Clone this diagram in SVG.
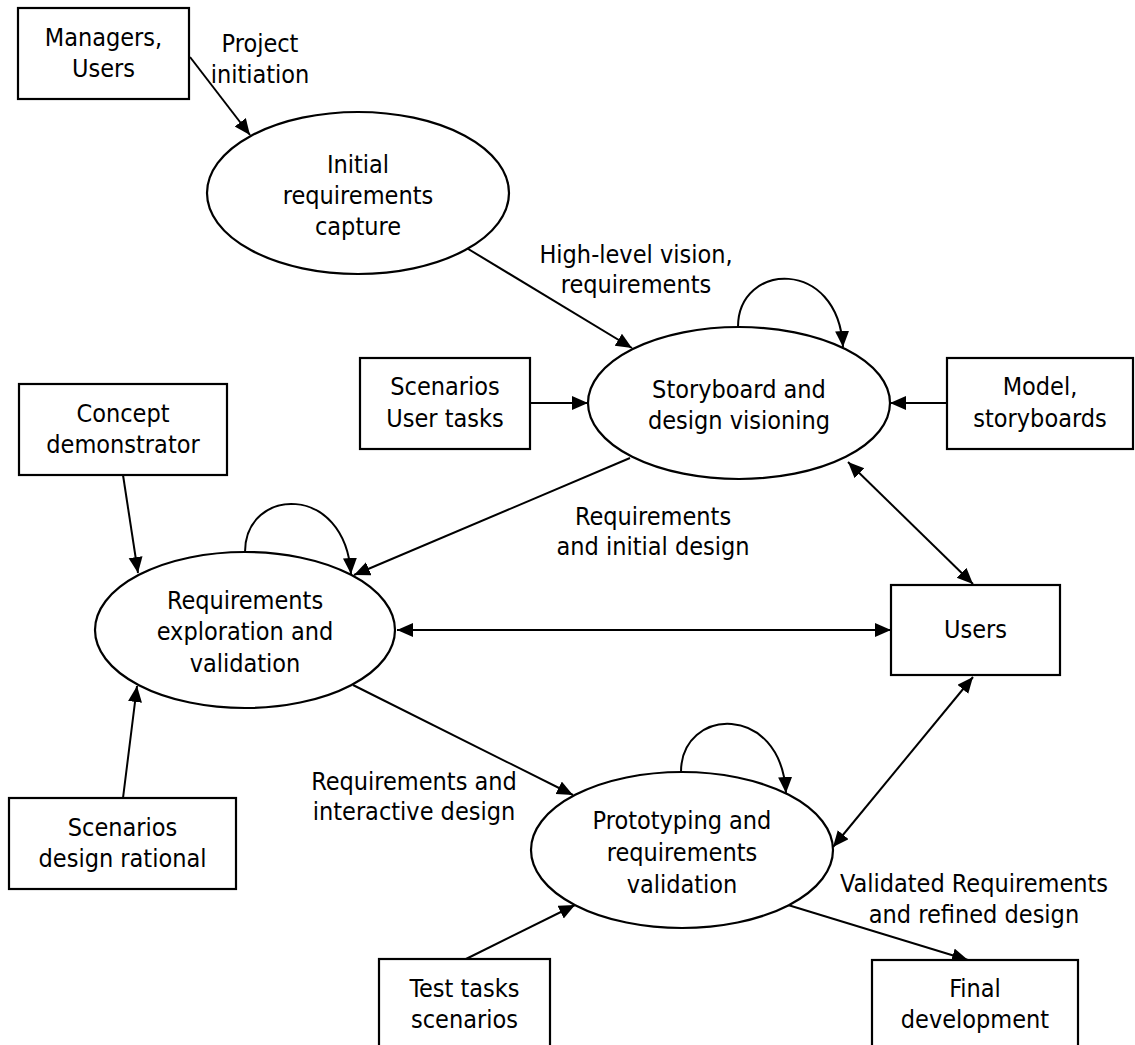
<svg xmlns="http://www.w3.org/2000/svg" width="1135" height="1045" viewBox="0 0 1135 1045">
<style>
  text { font-family: "DejaVu Sans Condensed", "DejaVu Sans", sans-serif; font-stretch: condensed; font-size: 25px; fill: #000; text-anchor: middle; }
  .box { fill: #fff; stroke: #000; stroke-width: 2.2; }
  .ell { fill: #fff; stroke: #000; stroke-width: 2.2; }
  .edge { fill: none; stroke: #000; stroke-width: 2; marker-end: url(#ah); }
  .both { marker-start: url(#ah); }
</style>
<defs>
  <marker id="ah" markerUnits="userSpaceOnUse" markerWidth="18" markerHeight="16" refX="16" refY="7" orient="auto-start-reverse">
    <path d="M0,0 L16,7 L0,14 Z" fill="#000"/>
  </marker>
</defs>
<rect width="1135" height="1045" fill="#fff"/>

<g id="connectors">
  <line class="edge" x1="190" y1="57" x2="250" y2="135"/>
  <line class="edge" x1="460" y1="244" x2="632" y2="348"/>
  <path class="edge" d="M738,327 C738,262 838,257 843,347"/>
  <line class="edge" x1="530" y1="403" x2="588" y2="403"/>
  <line class="edge" x1="947" y1="403" x2="890" y2="403"/>
  <line class="edge" x1="630" y1="458" x2="354" y2="575"/>
  <line class="edge both" x1="848" y1="462" x2="973" y2="584"/>
  <line class="edge" x1="123" y1="475" x2="138" y2="573"/>
  <path class="edge" d="M245,552 C245,487 345,482 351,574"/>
  <line class="edge both" x1="397" y1="630" x2="891" y2="630"/>
  <line class="edge" x1="123" y1="798" x2="137" y2="686"/>
  <line class="edge" x1="353" y1="685" x2="573" y2="795"/>
  <line class="edge both" x1="973" y1="677" x2="833" y2="847"/>
  <path class="edge" d="M681,772 C681,707 781,702 786,793"/>
  <line class="edge" x1="466" y1="959" x2="575" y2="905"/>
  <line class="edge" x1="788" y1="905" x2="968" y2="960"/>
</g>

<g id="labels">
  <text x="260" y="52">Project</text>
  <text x="260" y="83">initiation</text>
  <text x="636" y="263">High-level vision,</text>
  <text x="636" y="293">requirements</text>
  <text x="653" y="525">Requirements</text>
  <text x="653" y="555">and initial design</text>
  <text x="414" y="790">Requirements and</text>
  <text x="414" y="820">interactive design</text>
  <text x="974" y="892">Validated Requirements</text>
  <text x="974" y="923">and refined design</text>
</g>

<g id="managers">
  <rect class="box" x="18" y="8" width="171" height="91"/>
  <text x="103.5" y="46">Managers,</text>
  <text x="103.5" y="77">Users</text>
</g>
<g id="initial">
  <ellipse class="ell" cx="358" cy="193" rx="151" ry="81"/>
  <text x="358" y="173">Initial</text>
  <text x="358" y="204">requirements</text>
  <text x="358" y="235">capture</text>
</g>
<g id="storyboard">
  <ellipse class="ell" cx="739" cy="403" rx="151" ry="76"/>
  <text x="739" y="398">Storyboard and</text>
  <text x="739" y="429">design visioning</text>
</g>
<g id="scenarios-user-tasks">
  <rect class="box" x="360" y="358" width="170" height="91"/>
  <text x="445" y="395">Scenarios</text>
  <text x="445" y="427">User tasks</text>
</g>
<g id="model">
  <rect class="box" x="947" y="358" width="186" height="91"/>
  <text x="1040" y="395">Model,</text>
  <text x="1040" y="427">storyboards</text>
</g>
<g id="concept">
  <rect class="box" x="19" y="384" width="208" height="91"/>
  <text x="123" y="422">Concept</text>
  <text x="123" y="453">demonstrator</text>
</g>
<g id="req-exploration">
  <ellipse class="ell" cx="245" cy="630" rx="150" ry="78"/>
  <text x="245" y="609">Requirements</text>
  <text x="245" y="640">exploration and</text>
  <text x="245" y="672">validation</text>
</g>
<g id="users">
  <rect class="box" x="891" y="585" width="169" height="90"/>
  <text x="975.5" y="638">Users</text>
</g>
<g id="scenarios-design">
  <rect class="box" x="9" y="798" width="227" height="91"/>
  <text x="122.5" y="836">Scenarios</text>
  <text x="122.5" y="867">design rational</text>
</g>
<g id="prototyping">
  <ellipse class="ell" cx="682" cy="850" rx="151" ry="78"/>
  <text x="682" y="829">Prototyping and</text>
  <text x="682" y="861">requirements</text>
  <text x="682" y="893">validation</text>
</g>
<g id="test-tasks">
  <rect class="box" x="379" y="959" width="171" height="100"/>
  <text x="464.5" y="997">Test tasks</text>
  <text x="464.5" y="1028">scenarios</text>
</g>
<g id="final">
  <rect class="box" x="872" y="960" width="206" height="100"/>
  <text x="975" y="997">Final</text>
  <text x="975" y="1028">development</text>
</g>
</svg>
